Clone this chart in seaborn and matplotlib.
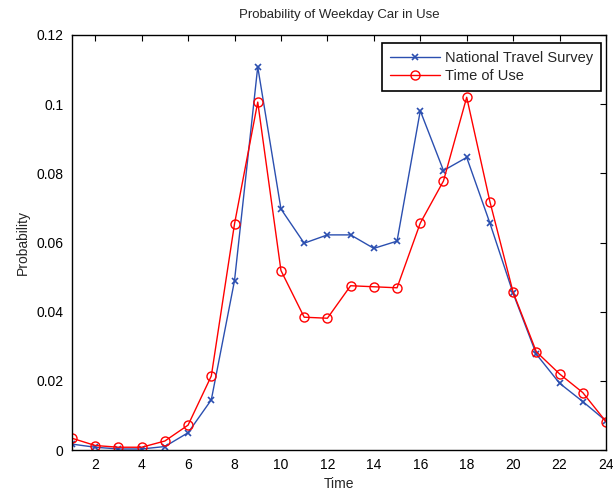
import matplotlib
matplotlib.use("Agg")
import matplotlib.pyplot as plt
import seaborn as sns
import pandas as pd
import numpy as np

hours = list(range(1, 25))
nts = [0.0017, 0.0008, 0.0003, 0.0003, 0.0010, 0.0050, 0.0145, 0.0490,
       0.1108, 0.0697, 0.0598, 0.0622, 0.0622, 0.0583, 0.0604, 0.0981,
       0.0808, 0.0846, 0.0656, 0.0453, 0.0277, 0.0193, 0.0140, 0.0084]
tou = [0.0034, 0.0013, 0.0008, 0.0008, 0.0026, 0.0072, 0.0214, 0.0654,
       0.1006, 0.0519, 0.0384, 0.0381, 0.0475, 0.0472, 0.0469, 0.0656,
       0.0778, 0.1020, 0.0718, 0.0456, 0.0284, 0.0220, 0.0166, 0.0082]
series_names = ["National Travel Survey", "Time of Use"]
xticks = list(range(2, 25, 2))
yticks = [0, 0.02, 0.04, 0.06, 0.08, 0.1, 0.12]
ytick_labels = ["0", "0.02", "0.04", "0.06", "0.08", "0.1", "0.12"]

sns.set_style("white")
plt.rcParams['font.family'] = ['Liberation Sans', 'DejaVu Sans']

df = pd.DataFrame({"Time": hours * 2,
                   "Probability": nts + tou,
                   "Series": [series_names[0]] * 24 + [series_names[1]] * 24})

fig = plt.figure(figsize=(6.13, 4.92), dpi=100)
ax = fig.add_axes([72/613, 1 - 450/492, (606 - 72)/613, (450 - 35)/492])

blue = "#2b4fb0"
red = "#ff0000"
sub1 = df[df.Series == series_names[0]]
sub2 = df[df.Series == series_names[1]]
sns.lineplot(data=sub1, x="Time", y="Probability", ax=ax, color=blue, lw=1.0,
             marker="x", markersize=4, markeredgewidth=1.2, markeredgecolor=blue,
             label=series_names[0])
sns.lineplot(data=sub2, x="Time", y="Probability", ax=ax, color=red, lw=1.0,
             marker="o", markersize=6.5, markerfacecolor="none", markeredgewidth=1.0,
             markeredgecolor=red, label=series_names[1])

ax.set_xlim(1, 24)
ax.set_ylim(0, 0.12)
ax.set_xticks(xticks)
ax.set_xticklabels([str(t) for t in xticks])
ax.set_yticks(yticks)
ax.set_yticklabels(ytick_labels)
ax.tick_params(direction="in", length=4, width=0.8, top=True, right=True,
               labelsize=10, colors="black", pad=6)
for s in ax.spines.values():
    s.set_visible(True)
    s.set_color("black")
    s.set_linewidth(1.0)

ax.set_xlabel("Time", fontsize=10, labelpad=3)
ax.set_ylabel("Probability", fontsize=10, labelpad=5)
ax.set_title("Probability of Weekday Car in Use", fontsize=9.5, pad=12)

leg = ax.legend(loc="upper right", fontsize=10.5, frameon=True, fancybox=False,
                edgecolor="black", framealpha=1, borderaxespad=0,
                bbox_to_anchor=((601 - 72) / 534, (450 - 43) / 415),
                handlelength=3.45, handletextpad=0.3, borderpad=0.55,
                labelspacing=0.3)
leg.get_frame().set_linewidth(1.2)

fig.savefig("out.png", dpi=100)
